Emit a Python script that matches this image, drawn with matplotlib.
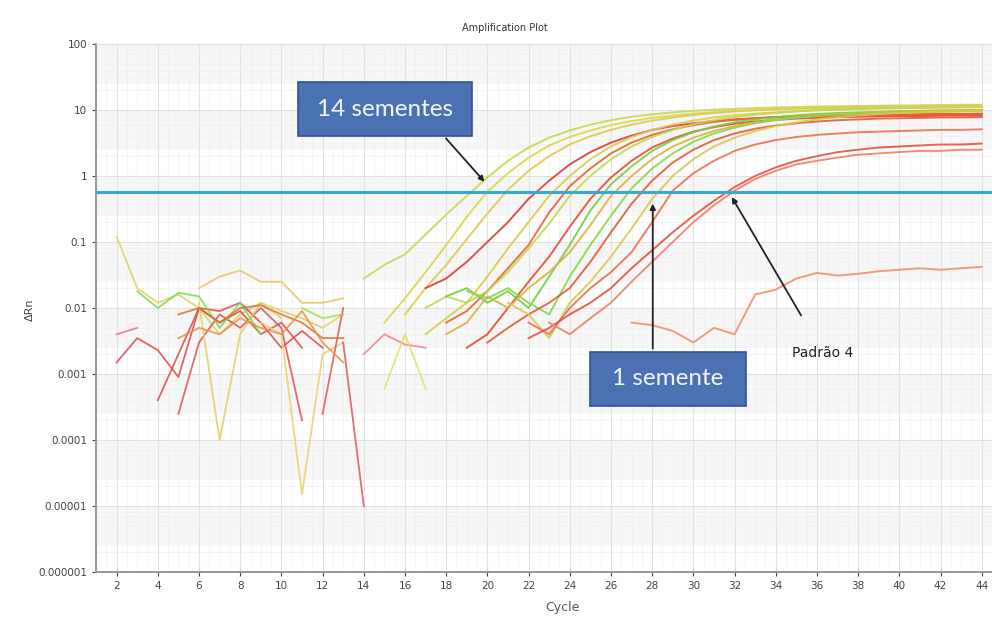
import numpy as np
import matplotlib
matplotlib.use("Agg")
import matplotlib.pyplot as plt
from matplotlib.patches import Rectangle

nan = np.nan

# amplification curves: first cycle and delta Rn per cycle up to 44
curve_starts = [14, 15, 16, 17, 17, 18, 17, 19, 18, 18, 19, 20, 21, 22, 22, 23, 27]
curve_values = [
    [0.028, 0.045, 0.065, 0.13, 0.26, 0.5, 0.95, 1.7, 2.7, 3.8, 4.9, 6.0, 7.0, 7.9, 8.6, 9.2,
     9.7, 10.1, 10.4, 10.7, 10.9, 11.1, 11.3, 11.4, 11.5, 11.6, 11.7, 11.8, 11.9, 12.0, 12.0],
    [0.006, 0.014, 0.035, 0.09, 0.24, 0.58, 1.1, 1.9, 2.9, 3.9, 4.9, 5.9, 6.8, 7.6, 8.2, 8.8,
     9.3, 9.7, 10.0, 10.3, 10.5, 10.7, 10.9, 11.0, 11.1, 11.2, 11.3, 11.4, 11.5, 11.5],
    [0.008, 0.02, 0.045, 0.11, 0.27, 0.62, 1.2, 2.0, 3.0, 4.0, 5.0, 6.0, 6.9, 7.7, 8.4, 9.0,
     9.5, 9.9, 10.2, 10.5, 10.7, 10.9, 11.0, 11.1, 11.2, 11.3, 11.3, 11.4, 11.4],
    [0.02, 0.028, 0.05, 0.1, 0.2, 0.45, 0.85, 1.5, 2.3, 3.2, 4.1, 5.0, 5.7, 6.3, 6.8, 7.2,
     7.5, 7.8, 8.0, 8.2, 8.3, 8.4, 8.5, 8.6, 8.6, 8.7, 8.7, 8.8],
    [0.004, 0.007, 0.012, 0.03, 0.08, 0.2, 0.5, 1.0, 1.8, 2.8, 3.9, 5.0, 6.0, 6.9, 7.7, 8.3,
     8.8, 9.2, 9.6, 9.9, 10.1, 10.3, 10.5, 10.6, 10.7, 10.8, 10.9, 11.0],
    [0.006, 0.009, 0.018, 0.04, 0.09, 0.28, 0.7, 1.3, 2.2, 3.2, 4.2, 5.1, 5.9, 6.6, 7.1, 7.5,
     7.8, 8.0, 8.2, 8.3, 8.4, 8.5, 8.6, 8.6, 8.7, 8.7, 8.7],
    [0.01, 0.015, 0.012, 0.018, 0.035, 0.08, 0.19, 0.5, 1.0, 1.8, 2.8, 3.9, 5.0, 6.1, 7.0, 7.8,
     8.5, 9.0, 9.5, 9.9, 10.2, 10.5, 10.7, 10.9, 11.0, 11.1, 11.2, 11.3],
    [0.0025, 0.004, 0.01, 0.025, 0.06, 0.17, 0.45, 0.95, 1.7, 2.7, 3.7, 4.7, 5.5, 6.2, 6.7,
     7.1, 7.4, 7.6, 7.8, 7.9, 8.0, 8.1, 8.1, 8.2, 8.2, 8.2],
    [0.015, 0.02, 0.012, 0.018, 0.01, 0.03, 0.09, 0.3, 0.75, 1.4, 2.4, 3.5, 4.6, 5.6, 6.5, 7.2,
     7.8, 8.3, 8.7, 9.0, 9.2, 9.4, 9.6, 9.7, 9.8, 9.9, 10.0],
    [0.004, 0.006, 0.015, 0.01, 0.02, 0.035, 0.07, 0.18, 0.5, 1.0, 1.8, 2.8, 3.8, 4.8, 5.7, 6.5,
     7.2, 7.8, 8.3, 8.7, 9.0, 9.3, 9.5, 9.7, 9.8, 9.9, 10.0],
    [0.018, 0.014, 0.02, 0.012, 0.008, 0.03, 0.09, 0.25, 0.65, 1.3, 2.2, 3.3, 4.4, 5.4, 6.3,
     7.0, 7.6, 8.1, 8.5, 8.8, 9.0, 9.2, 9.3, 9.4, 9.5, 9.6],
    [0.003, 0.005, 0.008, 0.012, 0.02, 0.05, 0.14, 0.38, 0.85, 1.6, 2.5, 3.5, 4.4, 5.2, 5.8,
     6.3, 6.7, 7.0, 7.2, 7.4, 7.5, 7.6, 7.7, 7.7, 7.8],
    [0.012, 0.008, 0.0035, 0.012, 0.025, 0.06, 0.16, 0.45, 1.0, 1.8, 2.8, 3.8, 4.8, 5.7, 6.5,
     7.2, 7.8, 8.3, 8.7, 9.0, 9.2, 9.4, 9.6, 9.7],
    [0.006, 0.004, 0.01, 0.02, 0.035, 0.07, 0.2, 0.6, 1.1, 1.7, 2.4, 3.0, 3.5, 3.9, 4.2, 4.4,
     4.6, 4.7, 4.8, 4.9, 5.0, 5.0, 5.1],
    [0.0035, 0.005, 0.008, 0.012, 0.02, 0.04, 0.075, 0.14, 0.25, 0.42, 0.68, 1.0, 1.35, 1.7,
     2.0, 2.3, 2.5, 2.7, 2.8, 2.9, 3.0, 3.0, 3.1],
    [0.006, 0.004, 0.007, 0.012, 0.025, 0.05, 0.1, 0.2, 0.36, 0.6, 0.9, 1.2, 1.5, 1.7, 1.9,
     2.1, 2.2, 2.3, 2.4, 2.4, 2.5, 2.5],
    [0.006, 0.0055, 0.0045, 0.003, 0.005, 0.004, 0.016, 0.019, 0.028, 0.034, 0.031, 0.033,
     0.036, 0.038, 0.04, 0.038, 0.04, 0.042],
]

# baseline noise in the early cycles (gaps = negative values, not shown on log scale)
noise_starts = [2, 2, 2, 4, 5, 6, 9, 12, 13, 6, 3, 5, 5, 14, 15, 11]
noise_values = [
    [0.12, 0.02, 0.012, 0.016, 0.01, 0.004, 0.008, 0.012, 0.009, 0.007, 0.005, 0.008],
    [0.004, 0.005],
    [0.0015, 0.0035, 0.0023, 0.0009, 0.01, 0.006, 0.009, 0.004, 0.006, 0.0025],
    [0.0004, 0.002, 0.01, 0.009, 0.012, 0.006, 0.0025, 0.0045, 0.0025],
    [0.00025, 0.003, 0.008, 0.005, 0.01, 0.005, 0.0002],
    [0.012, 0.0001, 0.004, 0.012, 0.007],
    [0.006, 0.004, 0.000015, 0.002, 0.003],
    [0.00025, 0.01],
    [0.003, 0.00001],
    [0.02, 0.03, 0.037, 0.025, 0.025, 0.012, 0.012, 0.014],
    [0.018, 0.01, 0.017, 0.015, 0.005, 0.012, 0.004],
    [0.008, 0.01, 0.006, 0.01, 0.011, 0.008, 0.006, 0.0035, 0.0035],
    [0.0035, 0.005, 0.004, 0.007, 0.005, 0.004, 0.009, 0.003, 0.0015],
    [0.002, 0.004, 0.0028, 0.0025],
    [0.0006, 0.004, 0.0006],
    [0.01, 0.007, 0.008],
]

threshold = 0.58
y_ticks = [1e-6, 1e-5, 1e-4, 1e-3, 1e-2, 1e-1, 1, 10, 100]
y_labels = ["0.000001", "0.00001", "0.0001", "0.001", "0.01", "0.1", "1", "10", "100"]
x_ticks = list(range(2, 45, 2))

curve_colors = ["#c8d650", "#d8d848", "#e0c850", "#e03a3a", "#d8cc48", "#e8642e", "#c0d850",
                "#e84a30", "#72d040", "#e0b040", "#86d84a", "#e85a38", "#d8c850", "#f07050",
                "#e85040", "#f08068", "#f09070"]
noise_colors = ["#e0d060", "#e87088", "#e04848", "#e04848", "#e05050", "#e0d060", "#e8d070",
                "#e85060", "#e85060", "#e8c060", "#80d848", "#d87030", "#e89040", "#f08090",
                "#e0e070", "#a0d850"]

fig = plt.figure(figsize=(9.92, 6.24), dpi=100)
ax = fig.add_axes([0.0968, 0.0833, 0.9032, 0.8462])
ax.set_yscale("log")
ax.set_xlim(1.03, 44.38)
ax.set_ylim(1e-6, 100)

# faint shading where the log minor grid gets dense
for k in range(-6, 2):
    ax.axhspan(10 ** (k + 0.4), 10 ** (k + 1), color="#f7f7f7", lw=0, zorder=0)

ax.set_xticks(x_ticks)
ax.set_xticks(np.arange(1, 45, 0.5), minor=True)
ax.set_yticks(y_ticks)
ax.set_yticklabels(y_labels)
ax.grid(True, which="major", color="#e0e0e0", lw=0.8, zorder=1)
ax.grid(True, which="minor", color="#f0f0f0", lw=0.5, zorder=1)
ax.tick_params(axis="both", which="major", labelsize=7.5, colors="#444444", length=3, width=0.8)
ax.tick_params(axis="both", which="minor", length=0)
for side in ["left", "bottom"]:
    ax.spines[side].set_color("#999999")
    ax.spines[side].set_linewidth(1.5)
ax.spines["top"].set_color("#dddddd")
ax.spines["right"].set_visible(False)

for start, vals, col in zip(noise_starts, noise_values, noise_colors):
    cyc = np.arange(start, start + len(vals))
    ax.plot(cyc, vals, color=col, lw=1.3, alpha=0.85, zorder=3)

for start, vals, col in zip(curve_starts, curve_values, curve_colors):
    cyc = np.arange(start, start + len(vals))
    ax.plot(cyc, vals, color=col, lw=1.4, alpha=0.9, zorder=3)

ax.axhline(threshold, color="#38a8d0", lw=2.2, zorder=4)

# callout boxes (figure fraction)
for x0, y0, w, h, label in [(0.3004, 0.782, 0.1754, 0.0865, "14 sementes"),
                            (0.5948, 0.3494, 0.1573, 0.0865, "1 semente")]:
    fig.patches.append(Rectangle((x0, y0), w, h, transform=fig.transFigure,
                                 fc="#4a72b2", ec="#2f528f", lw=1.2, zorder=6))
    fig.text(x0 + w / 2, y0 + h / 2, label, color="#f2f5fa", fontsize=17.5, family="Lato",
             ha="center", va="center", zorder=7)

arrow = dict(arrowstyle="-|>", color="#222222", lw=1.3, mutation_scale=8)
ax.annotate("", xy=(19.95, 0.76), xytext=(17.9, 4.0), arrowprops=arrow, zorder=5)
ax.annotate("", xy=(28.03, 0.42), xytext=(28.03, 0.0022), arrowprops=arrow, zorder=5)
ax.annotate("", xy=(31.8, 0.52), xytext=(35.3, 0.0071), arrowprops=arrow, zorder=5)
ax.text(36.3, 0.0021, "Padrão 4", fontsize=10, color="#222222", ha="center", va="center", zorder=6)

fig.text(0.509, 0.955, "Amplification Plot", fontsize=7, color="#333333", ha="center", va="center")
fig.text(0.03, 0.503, "ΔRn", fontsize=8, color="#444444", rotation=90, ha="center", va="center")
fig.text(0.567, 0.026, "Cycle", fontsize=9, color="#555555", ha="center", va="center")

fig.savefig("out.png", dpi=100)
